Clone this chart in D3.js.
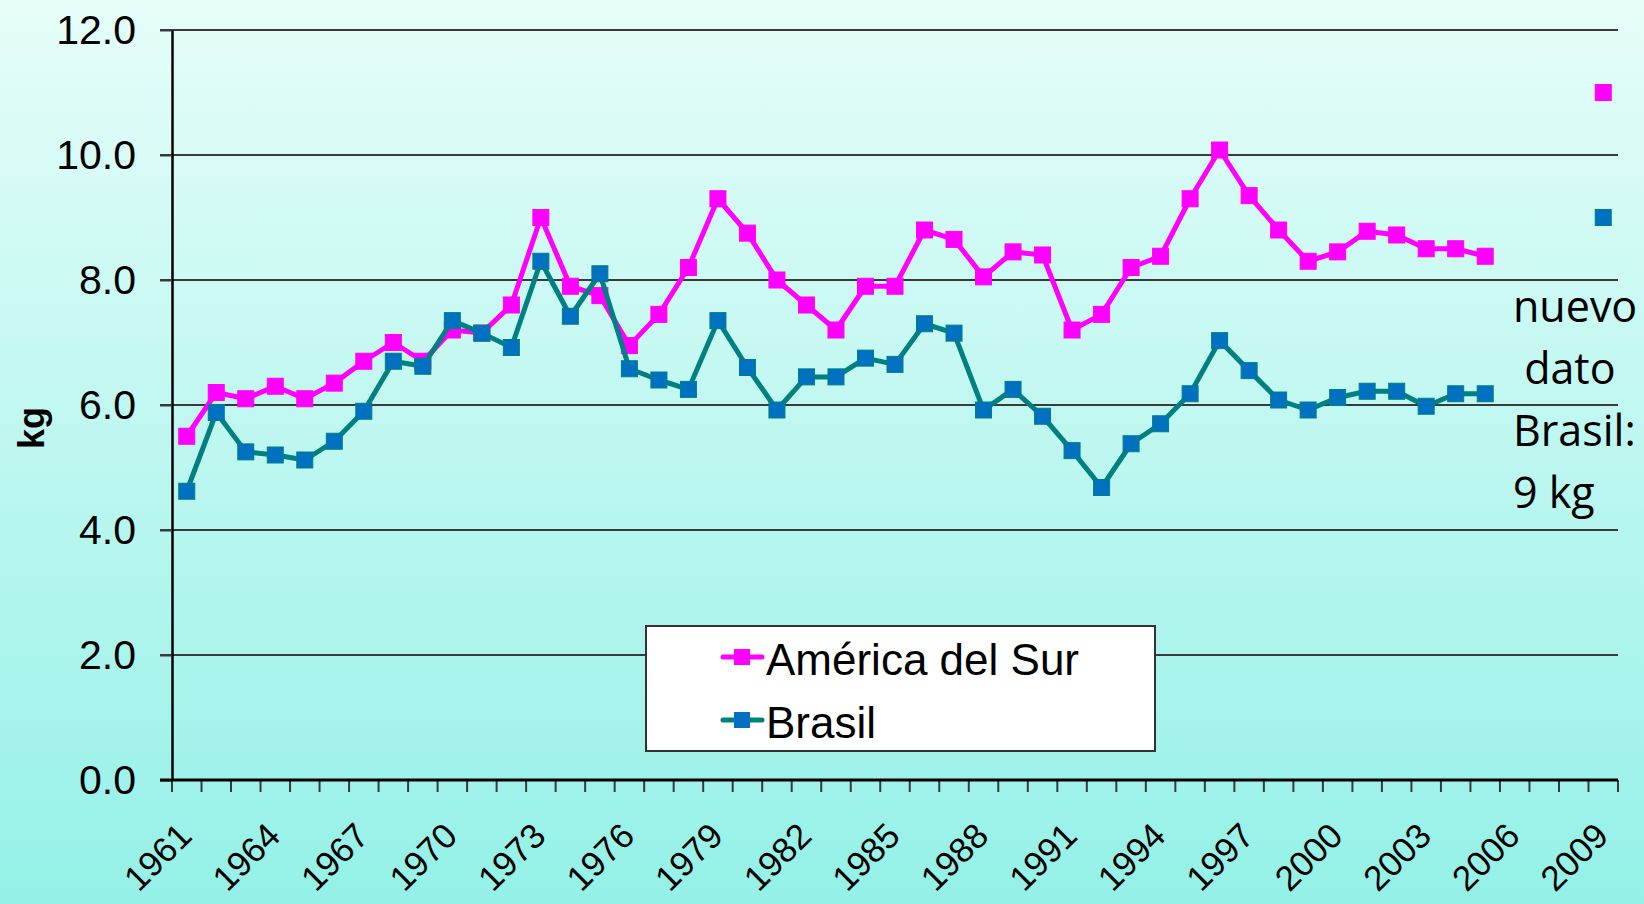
<!DOCTYPE html>
<html lang="es">
<head>
    <meta charset="UTF-8">
    <title>América del Sur y Brasil (kg)</title>
    <style>
        body {
            margin: 0;
            padding: 0;
        }
        svg {
            display: block;
        }
        text {
            font-family: "Liberation Sans", Arial, sans-serif;
            fill: #000;
        }
        .grid {
            stroke: #3a3a3a;
            stroke-width: 2px;
        }
        .note {
            font-family: "Open Sans", sans-serif;
            font-size: 43px;
            white-space: pre;
        }
    </style>
</head>
<body>
    <script src="https://d3js.org/d3.v7.min.js"></script>
    <script>
        const years = [1961, 1962, 1963, 1964, 1965, 1966, 1967, 1968, 1969, 1970,
            1971, 1972, 1973, 1974, 1975, 1976, 1977, 1978, 1979, 1980,
            1981, 1982, 1983, 1984, 1985, 1986, 1987, 1988, 1989, 1990,
            1991, 1992, 1993, 1994, 1995, 1996, 1997, 1998, 1999, 2000,
            2001, 2002, 2003, 2004, 2005, 2006, 2007, 2008, 2009];
        const tickYears = [1961, 1964, 1967, 1970, 1973, 1976, 1979, 1982, 1985,
            1988, 1991, 1994, 1997, 2000, 2003, 2006, 2009];
        const yTicks = [0, 2, 4, 6, 8, 10, 12];

        // kg per year, null = no data (2009 is the new point, shown alone)
        const americaSur = [5.50, 6.20, 6.10, 6.30, 6.10, 6.35, 6.70, 7.00, 6.70, 7.20,
            7.15, 7.60, 9.00, 7.90, 7.75, 6.95, 7.45, 8.20, 9.30, 8.75,
            8.00, 7.60, 7.20, 7.90, 7.90, 8.80, 8.65, 8.05, 8.45, 8.40,
            7.20, 7.45, 8.20, 8.38, 9.30, 10.08, 9.35, 8.80, 8.30, 8.45,
            8.78, 8.72, 8.50, 8.50, 8.38, null, null, null, 11.0];
        const brasil = [4.62, 5.88, 5.25, 5.20, 5.12, 5.42, 5.90, 6.70, 6.62, 7.35,
            7.15, 6.92, 8.30, 7.42, 8.10, 6.58, 6.40, 6.25, 7.35, 6.60,
            5.92, 6.45, 6.45, 6.75, 6.65, 7.30, 7.15, 5.92, 6.25, 5.82,
            5.27, 4.68, 5.38, 5.70, 6.18, 7.03, 6.55, 6.08, 5.92, 6.12,
            6.22, 6.22, 5.98, 6.18, 6.18, null, null, null, 9.0];

        const seriesNames = ['América del Sur', 'Brasil'];
        const noteLines = ['nuevo', ' dato', 'Brasil:', '9 kg'];

        const width = 1644;
        const height = 904;

        const svg = d3.select('body').append('svg')
            .attr('width', width)
            .attr('height', height);

        // background gradient
        const grad = svg.append('defs').append('linearGradient')
            .attr('id', 'bg')
            .attr('x1', 0).attr('y1', 0)
            .attr('x2', 0).attr('y2', 1);
        grad.append('stop').attr('offset', '0%').attr('stop-color', '#e6fdf9');
        grad.append('stop').attr('offset', '100%').attr('stop-color', '#94f1e7');

        svg.append('rect')
            .attr('width', width)
            .attr('height', height)
            .attr('fill', 'url(#bg)');

        const x = d3.scaleBand().domain(years).range([172, 1618]);
        const y = d3.scaleLinear().domain([0, 12]).range([780, 30]);
        const cx = d => x(d) + x.bandwidth() / 2;

        // horizontal gridlines
        svg.append('g')
            .selectAll('line')
            .data(yTicks.filter(d => d > 0))
            .enter().append('line')
            .attr('class', 'grid')
            .attr('x1', 160)
            .attr('x2', x.range()[1])
            .attr('y1', d => y(d))
            .attr('y2', d => y(d));

        // y axis
        const yAxis = svg.append('g')
            .attr('transform', `translate(${x.range()[0]},0)`)
            .call(d3.axisLeft(y)
                .tickValues(yTicks)
                .tickSize(12)
                .tickSizeOuter(0)
                .tickPadding(24)
                .tickFormat(d3.format('.1f')));
        yAxis.select('.domain').attr('stroke', '#000').attr('stroke-width', 2.5);
        yAxis.selectAll('.tick line').attr('stroke', '#3a3a3a').attr('stroke-width', 2);
        yAxis.selectAll('.tick text')
            .style('font-family', '"Liberation Sans", Arial, sans-serif')
            .style('font-size', '41px')
            .attr('fill', '#000');

        svg.append('text')
            .attr('transform', 'translate(31,428) rotate(-90)')
            .attr('dy', '0.35em')
            .attr('text-anchor', 'middle')
            .style('font-size', '36px')
            .style('font-weight', 'bold')
            .text('kg');

        // x axis: ticks on category boundaries
        const xAxis = svg.append('g');
        xAxis.selectAll('line.tk')
            .data(years.map(d => x(d)).concat([x.range()[1]]))
            .enter().append('line')
            .attr('class', 'tk')
            .attr('x1', d => d).attr('x2', d => d)
            .attr('y1', y(0)).attr('y2', y(0) + 12)
            .attr('stroke', '#3a3a3a')
            .attr('stroke-width', 2);
        xAxis.append('line')
            .attr('x1', x.range()[0] - 12)
            .attr('x2', x.range()[1])
            .attr('y1', y(0)).attr('y2', y(0))
            .attr('stroke', '#000')
            .attr('stroke-width', 3);

        xAxis.selectAll('text')
            .data(tickYears)
            .enter().append('text')
            .attr('transform', d => `translate(${cx(d) + 7},838) rotate(-45)`)
            .attr('text-anchor', 'end')
            .style('font-size', '35px')
            .text(d => d);

        // series
        const series = [
            { name: seriesNames[0], values: americaSur, line: '#ff00ff', marker: '#ff00ff' },
            { name: seriesNames[1], values: brasil, line: '#008080', marker: '#0070c0' }
        ];

        const line = d3.line()
            .defined(v => v != null)
            .x((v, i) => cx(years[i]))
            .y(v => y(v));

        const ms = 16;
        series.forEach(s => {
            svg.append('path')
                .attr('d', line(s.values))
                .attr('fill', 'none')
                .attr('stroke', s.line)
                .attr('stroke-width', 5)
                .attr('stroke-linejoin', 'round');

            svg.append('g')
                .selectAll('rect')
                .data(s.values.map((v, i) => ({ year: years[i], v })).filter(d => d.v != null))
                .enter().append('rect')
                .attr('x', d => cx(d.year) - ms / 2)
                .attr('y', d => y(d.v) - ms / 2)
                .attr('width', ms)
                .attr('height', ms)
                .attr('fill', s.marker)
                .attr('stroke', s.line)
                .attr('stroke-width', 1);
        });

        // legend
        const legend = svg.append('g').attr('transform', 'translate(646,626)');
        legend.append('rect')
            .attr('width', 509)
            .attr('height', 125)
            .attr('fill', '#fff')
            .attr('stroke', '#333')
            .attr('stroke-width', 2);

        series.forEach((s, i) => {
            const ly = 31 + i * 63;
            legend.append('line')
                .attr('x1', 77).attr('x2', 116)
                .attr('y1', ly).attr('y2', ly)
                .attr('stroke', s.line)
                .attr('stroke-width', 5)
                .attr('stroke-linecap', 'round');
            legend.append('rect')
                .attr('x', 96 - ms / 2).attr('y', ly - ms / 2)
                .attr('width', ms).attr('height', ms)
                .attr('fill', s.marker);
            legend.append('text')
                .attr('x', 120)
                .attr('y', ly + 18)
                .style('font-size', '44px')
                .text(s.name);
        });

        // note on the right
        svg.append('g')
            .selectAll('text')
            .data(noteLines)
            .enter().append('text')
            .attr('class', 'note')
            .attr('x', 1513)
            .attr('y', (d, i) => 322 + i * 62)
            .text(d => d);
    </script>
</body>
</html>
